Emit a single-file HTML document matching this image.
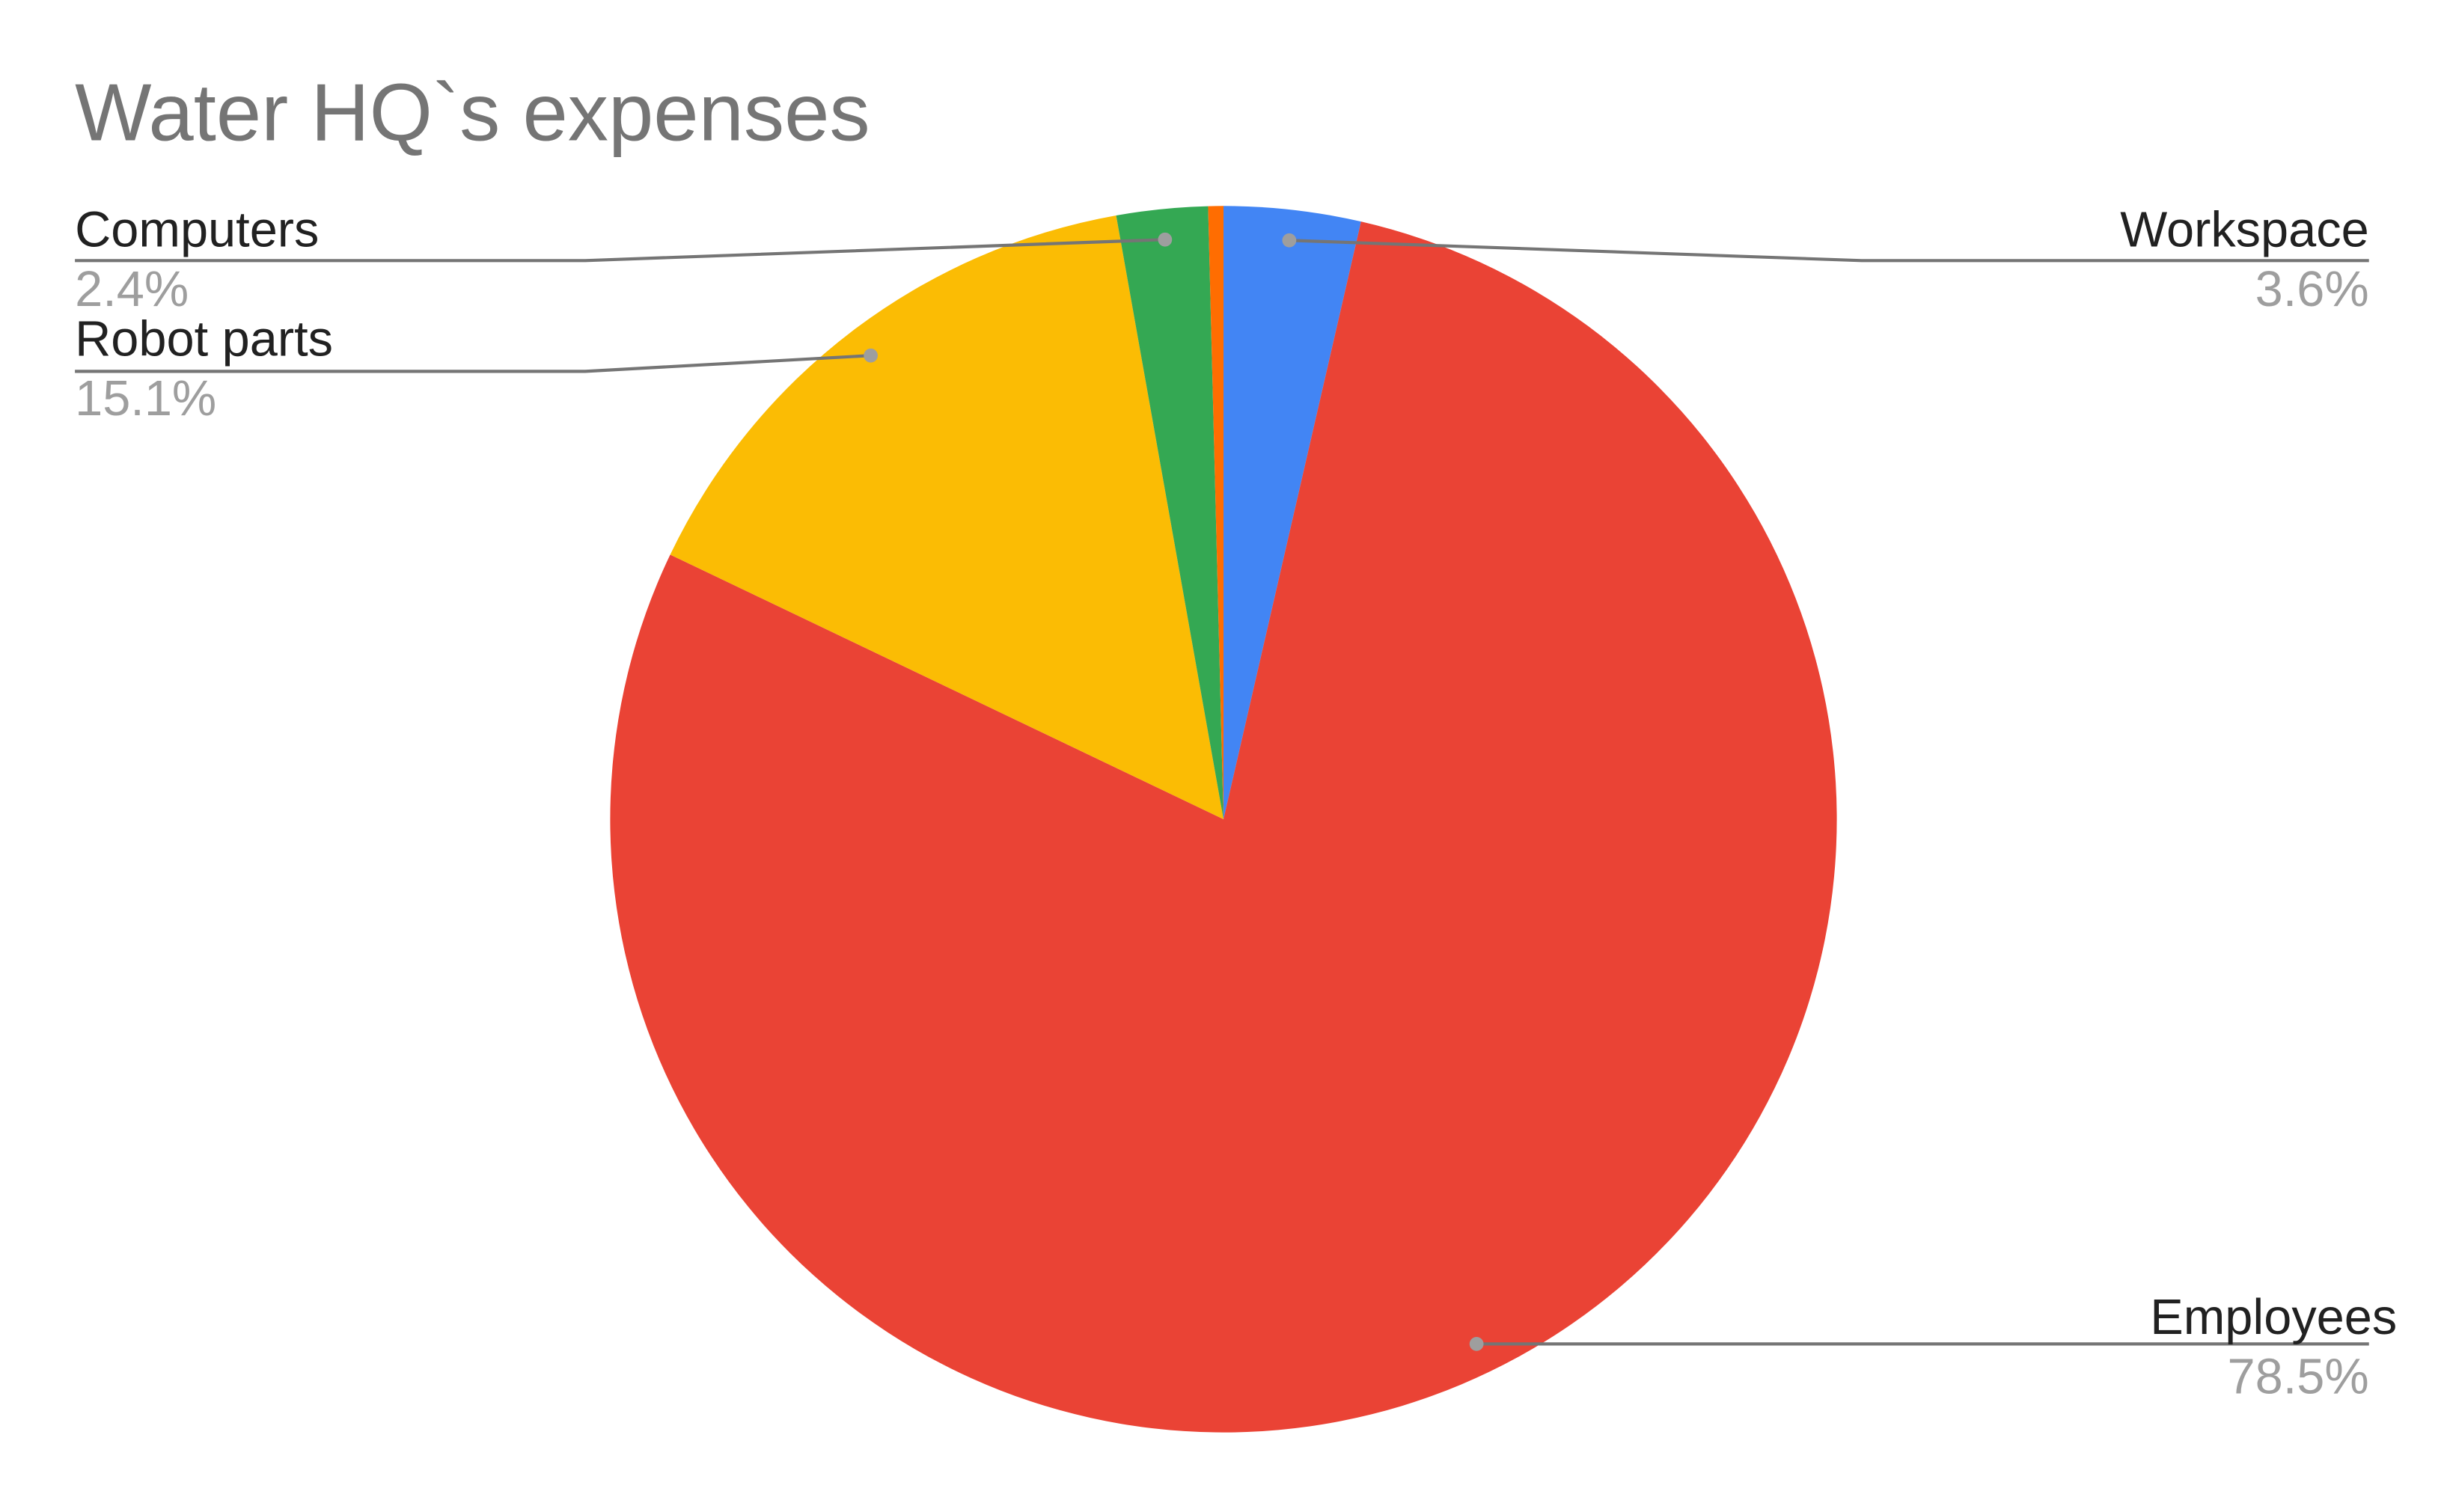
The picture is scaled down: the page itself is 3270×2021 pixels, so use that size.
<!DOCTYPE html>
<html>
<head>
<meta charset="utf-8">
<style>
html,body{margin:0;padding:0;background:#fff;}
svg{display:block;}
</style>
</head>
<body>
<svg id="chart" width="3270" height="2021" viewBox="0 0 1568 969" preserveAspectRatio="none" xmlns="http://www.w3.org/2000/svg">
<rect width="1568" height="969" fill="#fff"/>
<text x="48" y="90" font-family="Liberation Sans, sans-serif" font-size="52" fill="#757575">Water HQ`s expenses</text>
<g id="slices"></g>
<g id="labels"></g>
</svg>
<script>
const categories = ["Workspace", "Employees", "Robot parts", "Computers", "Other"];
const values = [3.6, 78.5, 15.1, 2.4, 0.4];
const percentLabels = ["3.6%", "78.5%", "15.1%", "2.4%", ""];
const colors = ["#4285F4", "#EA4335", "#FBBC04", "#34A853", "#FF6D01"];

const NS = "http://www.w3.org/2000/svg";
const cx = 784, cy = 525, r = 393;
const total = values.reduce((a, b) => a + b, 0);
function angleAt(v) { return v / total * 2 * Math.PI - Math.PI / 2; }
function pt(a, rad) { return [cx + rad * Math.cos(a), cy + rad * Math.sin(a)]; }

const sg = document.getElementById("slices");
const lg = document.getElementById("labels");
const layout = {
  "Workspace": {side: "right", y: 158, lineY: 167, knee: 1193, end: 1518, textX: 1518},
  "Employees": {side: "right", y: 855, lineY: 863, knee: null, end: 1518, textX: 1536},
  "Robot parts": {side: "left", y: 228, lineY: 238, knee: 375, end: 48, textX: 48},
  "Computers": {side: "left", y: 158, lineY: 167, knee: 375, end: 48, textX: 48}
};

let cum = 0;
values.forEach((v, i) => {
  const a0 = angleAt(cum), a1 = angleAt(cum + v);
  cum += v;
  const [x0, y0] = pt(a0, r), [x1, y1] = pt(a1, r);
  const large = (a1 - a0) > Math.PI ? 1 : 0;
  const p = document.createElementNS(NS, "path");
  p.setAttribute("d", `M${cx},${cy} L${x0},${y0} A${r},${r} 0 ${large} 1 ${x1},${y1} Z`);
  p.setAttribute("fill", colors[i]);
  
  
  sg.appendChild(p);

  const L = layout[categories[i]];
  if (!L) return;
  const am = (a0 + a1) / 2;
  const [dx, dy] = pt(am, r * 0.95);
  const line = document.createElementNS(NS, "polyline");
  const pts = L.knee === null
    ? `${dx},${dy} ${L.end},${dy}`
    : `${dx},${dy} ${L.knee},${L.lineY} ${L.end},${L.lineY}`;
  line.setAttribute("points", pts);
  line.setAttribute("fill", "none");
  line.setAttribute("stroke", "#757575");
  line.setAttribute("stroke-width", "2");
  
  
  lg.appendChild(line);
  const dot = document.createElementNS(NS, "circle");
  dot.setAttribute("cx", dx); dot.setAttribute("cy", dy); dot.setAttribute("r", 4.5);
  dot.setAttribute("fill", "#9e9e9e");
  
  
  lg.appendChild(dot);
  const anchor = L.side === "right" ? "end" : "start";
  const t = document.createElementNS(NS, "text");
  t.setAttribute("x", L.textX); t.setAttribute("y", L.y);
  t.setAttribute("text-anchor", anchor);
  t.setAttribute("font-family", "Liberation Sans, sans-serif");
  t.setAttribute("font-size", "32");
  t.setAttribute("fill", "#212121");
  t.textContent = categories[i];
  
  
  lg.appendChild(t);
  const t2 = document.createElementNS(NS, "text");
  t2.setAttribute("x", L.end === 48 ? 48 : 1518); t2.setAttribute("y", L.y + 38);
  t2.setAttribute("text-anchor", anchor);
  t2.setAttribute("font-family", "Liberation Sans, sans-serif");
  t2.setAttribute("font-size", "32");
  t2.setAttribute("fill", "#9e9e9e");
  t2.textContent = percentLabels[i];
  
  
  lg.appendChild(t2);
});
</script>
</body>
</html>
